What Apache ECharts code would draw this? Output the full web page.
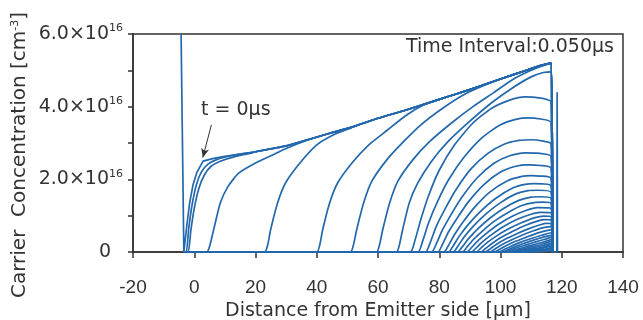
<!DOCTYPE html>
<html>
<head>
<meta charset="utf-8">
<script src="https://cdn.jsdelivr.net/npm/echarts@6/dist/echarts.min.js"></script>
<style>
  html, body { margin: 0; padding: 0; background: #fff; }
  #chart { width: 643px; height: 320px; }
</style>
</head>
<body>
<div id="chart"></div>
<script>
// carrier concentration in units of 1e16 cm^-3, distance in um
const envelope = [
  [-4.3, 6], [-3.4, 0], [-3.0, 0], [-2.4, 0.75], [-1.5, 1.35], [-0.4, 1.85], [0.9, 2.2], [2.9, 2.5],
  [6, 2.57], [10, 2.63], [20, 2.76], [30, 2.92], [44, 3.26], [52, 3.45], [60, 3.68], [70, 3.93],
  [80, 4.2], [90, 4.47], [100, 4.76], [108, 4.99], [113, 5.13], [116.5, 5.2], [117, 0],
  [118.4, 0], [118.5, 4.38], [118.6, 0], [118.8, 0]
]

// curves that catch up with the t = 0 profile
const risers = [
  [[-2.6, 0], [-1.8, 0.65], [-0.7, 1.3], [0.7, 1.85], [2.3, 2.2], [4.5, 2.42], [7.5, 2.55], [12, 2.65], [16, 2.71]],
  [[-2.0, 0], [-1.1, 0.6], [0, 1.2], [1.5, 1.75], [3.3, 2.12], [5.5, 2.36], [8.5, 2.5], [13, 2.62], [19, 2.73]],
  [[4.1, 0], [5, 0.15], [6.3, 0.6], [8.5, 1.35], [11, 1.8], [14.5, 2.17], [20, 2.45], [25, 2.65], [30, 2.85], [36, 3.05]],
  [[23, 0], [24, 0.2], [24.9, 0.6], [27.2, 1.35], [29.8, 1.9], [34.5, 2.45], [40, 2.95], [46, 3.25], [51, 3.41]],
  [[40, 0], [41, 0.2], [41.9, 0.6], [44.2, 1.35], [46.8, 1.9], [51.5, 2.45], [57, 2.95], [63, 3.35], [69, 3.75], [75, 4.05]],
  [[51, 0], [52, 0.2], [53, 0.6], [55.3, 1.35], [58, 1.95], [63, 2.55], [68.5, 3.05], [74, 3.5], [81, 3.95], [88, 4.33], [94, 4.56]],
  [[59.5, 0], [60.5, 0.2], [61.5, 0.6], [63.8, 1.35], [66.5, 1.95], [71.5, 2.55], [77, 3.05], [84, 3.55], [91, 4.0], [98, 4.4], [104, 4.75], [110, 5.0], [113, 5.1]]
]

// later curves, decaying below the t = 0 profile
const domes = [
  [[66, 0], [67, 0.2], [68, 0.6], [70.2, 1.35], [73, 1.9], [77.5, 2.5], [83, 3.05], [90, 3.6], [97, 4.1], [104, 4.52], [110, 4.82], [114, 4.94], [116.5, 4.96], [117, 0]],
  [[70.5, 0], [72, 0.3], [74, 0.9], [76.5, 1.55], [80, 2.25], [85, 2.95], [91, 3.55], [97, 3.95], [103, 4.18], [108, 4.27], [112, 4.25], [116.5, 4.13], [117, 0]],
  [[73, 0], [74.5, 0.28], [76.5, 0.8], [79.5, 1.4], [83, 1.98], [88, 2.6], [94, 3.15], [100, 3.5], [105, 3.65], [109, 3.69], [113, 3.66], [116.5, 3.57], [117, 0]],
  [[75.5, 0], [77, 0.25], [79, 0.7], [82, 1.2], [85.5, 1.72], [90.5, 2.3], [96, 2.72], [101, 2.96], [106, 3.07], [110, 3.09], [114, 3.05], [116.5, 2.98], [117, 0]],
  [[77.5, 0], [79, 0.22], [81, 0.6], [84, 1.05], [87.5, 1.52], [92.5, 2.05], [98, 2.45], [103, 2.65], [108, 2.73], [112, 2.72], [116.5, 2.63], [117, 0]],
  [[79.5, 0], [81, 0.2], [83, 0.55], [86, 0.95], [89.5, 1.38], [94.5, 1.85], [100, 2.2], [105, 2.36], [109, 2.4], [113, 2.38], [116.5, 2.31], [117, 0]],
  [[81.5, 0], [83, 0.18], [85, 0.48], [88, 0.85], [91.5, 1.23], [96.5, 1.65], [102, 1.95], [107, 2.08], [110, 2.1], [113, 2.09], [116.5, 2.03], [117, 0]],
  [[83, 0], [84.5, 0.16], [86.5, 0.43], [89.5, 0.76], [93.5, 1.12], [98.5, 1.48], [104, 1.76], [108, 1.86], [111, 1.88], [116.5, 1.82], [117, 0]],
  [[84.5, 0], [86, 0.15], [88, 0.4], [91, 0.7], [95, 1.03], [100, 1.36], [105, 1.6], [109, 1.69], [112, 1.7], [116.5, 1.65], [117, 0]],
  [[86, 0], [87.5, 0.14], [89.5, 0.36], [92.5, 0.63], [96.5, 0.93], [101, 1.2], [106, 1.42], [110, 1.51], [113, 1.52], [116.5, 1.48], [117, 0]],
  [[87.5, 0], [89, 0.13], [91, 0.33], [94, 0.57], [98, 0.85], [102.5, 1.09], [107, 1.28], [111, 1.36], [114, 1.37], [116.5, 1.34], [117, 0]],
  [[89, 0], [90.5, 0.12], [92.5, 0.3], [95.5, 0.52], [99.5, 0.77], [104, 0.99], [108.5, 1.15], [112, 1.22], [116.5, 1.2], [117, 0]],
  [[90.5, 0], [92, 0.11], [94, 0.27], [97, 0.47], [101, 0.7], [105.5, 0.9], [110, 1.04], [113, 1.09], [116.5, 1.08], [117, 0]],
  [[92, 0], [93.5, 0.1], [95.5, 0.25], [98.5, 0.43], [102.5, 0.63], [107, 0.81], [111, 0.94], [114, 0.99], [116.5, 0.97], [117, 0]],
  [[93.5, 0], [95, 0.09], [97, 0.22], [100, 0.39], [104, 0.57], [108, 0.73], [112, 0.85], [114.5, 0.89], [116.5, 0.88], [117, 0]],
  [[95, 0], [96.5, 0.08], [98.5, 0.2], [101.5, 0.35], [105.5, 0.51], [109.5, 0.65], [113, 0.75], [115, 0.79], [116.5, 0.78], [117, 0]],
  [[96.5, 0], [98, 0.07], [100, 0.18], [103, 0.31], [107, 0.46], [111, 0.59], [114, 0.67], [116.5, 0.7], [117, 0]],
  [[98, 0], [99.5, 0.065], [101.5, 0.16], [104.5, 0.28], [108.5, 0.41], [112, 0.52], [115, 0.59], [116.5, 0.61], [117, 0]],
  [[99.5, 0], [101, 0.06], [103, 0.14], [106, 0.25], [110, 0.37], [113.5, 0.46], [116.5, 0.53], [117, 0]],
  [[100.5, 0], [102, 0.05], [104, 0.12], [107, 0.22], [110.5, 0.32], [114, 0.41], [116.5, 0.46], [117, 0]],
  [[101.5, 0], [103, 0.045], [105, 0.11], [108, 0.19], [111.5, 0.28], [114.5, 0.35], [116.5, 0.4], [117, 0]],
  [[102.5, 0], [104, 0.04], [106, 0.09], [109, 0.16], [112.5, 0.24], [115, 0.3], [116.5, 0.34], [117, 0]],
  [[103.5, 0], [105, 0.035], [107, 0.08], [110, 0.14], [113, 0.2], [116.5, 0.29], [117, 0]],
  [[104.5, 0], [106, 0.03], [108, 0.065], [111, 0.12], [114, 0.18], [116.5, 0.24], [117, 0]],
  [[105.5, 0], [107, 0.025], [109, 0.055], [112, 0.1], [114.5, 0.15], [116.5, 0.2], [117, 0]],
  [[106.5, 0], [108.5, 0.025], [111, 0.06], [113.5, 0.1], [116.5, 0.16], [117, 0]],
  [[107.5, 0], [109.5, 0.02], [112, 0.05], [114.5, 0.08], [116.5, 0.12], [117, 0]],
  [[108.5, 0], [110.5, 0.015], [113, 0.04], [116.5, 0.09], [117, 0]],
  [[109.5, 0], [112, 0.015], [114.5, 0.035], [116.5, 0.06], [117, 0]],
  [[110.5, 0], [113.5, 0.012], [116.5, 0.035], [117, 0]]
]

const BLUE = '#2368ad'
const AXIS = '#333'
const FONT = 'Liberation Sans, Arial, sans-serif'
const WIDE = 'DejaVu Sans, sans-serif'

const baseLine = (data, smooth) => ({
  type: 'line',
  data: data,
  showSymbol: false,
  smooth: smooth,
  silent: true,
  lineStyle: { color: BLUE, width: 1.7, join: 'round' },
  z: 2
})

const series = []
const first = baseLine(envelope, false)
first.markLine = {
  silent: true,
  symbol: ['none', 'arrow'],
  symbolSize: [6, 9],
  lineStyle: { color: AXIS, width: 1, type: 'solid' },
  label: { show: false },
  data: [[{ coord: [5.6, 3.5] }, { coord: [2.8, 2.6] }]]
}
series.push(first)

risers.forEach(r => {
  const last = r[r.length - 1][0]
  const tail = envelope.filter(p => p[0] > last && p[0] <= 117 && p[0] > 0)
  series.push(baseLine([[-3.2, 0]].concat(r, tail), 0.2))
})
domes.forEach(d => {
  series.push(baseLine([[-3.2, 0]].concat(d), 0.2))
})

const chart = echarts.init(document.getElementById('chart'))
chart.setOption({
  animation: false,
  backgroundColor: '#fff',
  textStyle: { fontFamily: FONT },
  grid: {
    left: 133, right: 20, top: 34, bottom: 68,
    outerBoundsMode: 'none',
    show: true, borderColor: AXIS, borderWidth: 1.5
  },
  xAxis: {
    type: 'value',
    min: -20, max: 140, interval: 20,
    name: 'Distance from Emitter side [μm]',
    nameLocation: 'middle',
    nameGap: 48,
    nameTextStyle: { fontSize: 19, color: AXIS, fontFamily: WIDE },
    axisLine: { onZero: false, lineStyle: { color: AXIS, width: 1.5 } },
    axisTick: { show: true, length: 6, lineStyle: { color: AXIS, width: 1.5 } },
    axisLabel: { fontSize: 19, color: AXIS, margin: 26, fontFamily: FONT },
    splitLine: { show: false }
  },
  yAxis: {
    type: 'value',
    min: 0, max: 6, interval: 2,
    axisLine: { show: true, onZero: false, lineStyle: { color: AXIS, width: 1.5 } },
    axisTick: { show: true, length: 5, lineStyle: { color: AXIS, width: 1.5 } },
    minorTick: { show: true, splitNumber: 2, length: 5, lineStyle: { color: AXIS, width: 1.5 } },
    axisLabel: {
      margin: 10,
      formatter: v => v === 0 ? '{z|0}' : '{b|' + v.toFixed(1) + '×10}{s|16}',
      rich: {
        z: { fontSize: 19, color: AXIS, fontFamily: WIDE, padding: [0, 12, 0, 0] },
        b: { fontSize: 19, color: AXIS, fontFamily: WIDE, lineHeight: 22 },
        s: { fontSize: 11, color: AXIS, fontFamily: WIDE, verticalAlign: 'top', lineHeight: 12 }
      }
    },
    splitLine: { show: false }
  },
  graphic: [
    {
      type: 'text', left: 201, top: 101,
      style: { text: 't = 0μs', fontSize: 19, fill: AXIS, fontFamily: WIDE }
    },
    {
      type: 'text', right: 29, top: 38,
      style: { text: 'Time Interval:0.050μs', fontSize: 19, fill: AXIS, fontFamily: WIDE }
    },
    {
      type: 'text', x: 20, y: 155, rotation: Math.PI / 2,
      style: {
        text: 'Carrier  Concentration [cm{s|-3}]',
        fontSize: 20, fill: AXIS, fontFamily: WIDE,
        align: 'center', verticalAlign: 'middle',
        rich: { s: { fontSize: 11, fill: AXIS, fontFamily: WIDE, verticalAlign: 'top', lineHeight: 12 } }
      }
    }
  ],
  series: series
})
</script>
</body>
</html>
